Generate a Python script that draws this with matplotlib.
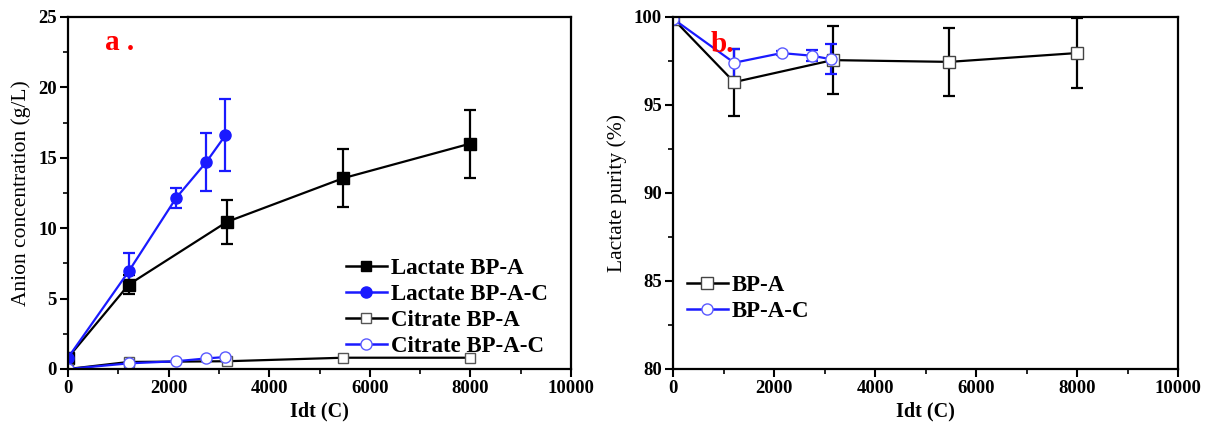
import matplotlib
matplotlib.use("Agg")
import matplotlib.pyplot as plt
from matplotlib.ticker import MultipleLocator
from matplotlib.lines import Line2D

plt.rcParams['font.family'] = ['Liberation Serif', 'DejaVu Serif']
plt.rcParams['font.weight'] = 'bold'

# Panel a data
x_bpa = [0, 1210, 3160, 5470, 7990]
x_bpac = [0, 1210, 2150, 2750, 3130]
lact_bpa = [0.8, 6.0, 10.45, 13.55, 16.0]
lact_bpa_err = [0.2, 0.7, 1.55, 2.05, 2.4]
lact_bpac = [0.8, 6.95, 12.15, 14.7, 16.6]
lact_bpac_err = [0.2, 1.3, 0.7, 2.05, 2.55]
cit_bpa = [0.0, 0.5, 0.55, 0.8, 0.8]
cit_bpa_err = [0.05, 0.2, 0.2, 0.2, 0.2]
cit_bpac = [0.0, 0.4, 0.55, 0.75, 0.85]
cit_bpac_err = [0.05, 0.2, 0.25, 0.2, 0.25]

# Panel b data
pur_bpa = [99.9, 96.3, 97.55, 97.45, 97.95]
pur_bpa_err = [0.05, 1.9, 1.95, 1.95, 2.0]
pur_bpac = [99.9, 97.4, 97.95, 97.8, 97.6]
pur_bpac_err = [0.05, 0.8, 0.12, 0.3, 0.85]

blue = '#1a1aff'
lblue = '#5a5aff'

fig = plt.figure(figsize=(12.1, 4.25), dpi=100)
ax1 = fig.add_axes([0.0562, 0.1318, 0.4157, 0.8282])
ax2 = fig.add_axes([0.5562, 0.1318, 0.4174, 0.8282])

ekw = dict(capsize=4, elinewidth=1.6, capthick=1.6, lw=1.6, ms=8)
ax1.errorbar(x_bpa, lact_bpa, yerr=lact_bpa_err, color='black', marker='s', **ekw)
ax1.errorbar(x_bpac, lact_bpac, yerr=lact_bpac_err, color=blue, marker='o', **ekw)
ax1.errorbar(x_bpa, cit_bpa, yerr=cit_bpa_err, color='black', marker='s',
             mfc='white', mec='#555555',
             capsize=3, elinewidth=1.0, capthick=1.0, lw=1.6, ms=7)
ax1.errorbar(x_bpac, cit_bpac, yerr=cit_bpac_err, color=blue, marker='o',
             mfc='white', mec=lblue, ecolor=lblue,
             capsize=3, elinewidth=1.0, capthick=1.0, lw=1.6, ms=8)

h1 = [Line2D([], [], color='black', marker='s', lw=1.8, ms=7),
      Line2D([], [], color=blue, marker='o', lw=1.8, ms=8),
      Line2D([], [], color='black', marker='s', mfc='white', mec='#555555', lw=1.8, ms=7),
      Line2D([], [], color=blue, marker='o', mfc='white', mec=lblue, lw=1.8, ms=8)]
l1 = ['Lactate BP-A', 'Lactate BP-A-C', 'Citrate BP-A', 'Citrate BP-A-C']

ax1.set_xlim(0, 10000)
ax1.set_ylim(0, 25)
ax1.xaxis.set_major_locator(MultipleLocator(2000))
ax1.xaxis.set_minor_locator(MultipleLocator(1000))
ax1.yaxis.set_major_locator(MultipleLocator(5))
ax1.yaxis.set_minor_locator(MultipleLocator(2.5))
ax1.set_xlabel('Idt (C)', fontsize=14.5, fontweight='bold', labelpad=3)
ax1.set_ylabel('Anion concentration (g/L)', fontsize=15.5, fontweight='normal', labelpad=5)
ax1.text(0.073, 0.965, 'a .', transform=ax1.transAxes, color='red',
         fontsize=21, fontweight='bold', va='top')
ax1.legend(h1, l1, loc='lower right', bbox_to_anchor=(0.985, -0.012), frameon=False,
           fontsize=16.5, numpoints=1, handlelength=1.8, handletextpad=0.15,
           labelspacing=0.22, borderaxespad=0.3)

ax2.errorbar(x_bpa, pur_bpa, yerr=pur_bpa_err, color='black', marker='s',
             mfc='white', mec='#444444', **ekw)
ax2.errorbar(x_bpac, pur_bpac, yerr=pur_bpac_err, color=blue, marker='o',
             mfc='white', mec=lblue, **ekw)
h2 = [Line2D([], [], color='black', marker='s', mfc='white', mec='#444444', lw=1.8, ms=8),
      Line2D([], [], color=blue, marker='o', mfc='white', mec=lblue, lw=1.8, ms=8)]
l2 = ['BP-A', 'BP-A-C']
ax2.set_xlim(0, 10000)
ax2.set_ylim(80, 100)
ax2.xaxis.set_major_locator(MultipleLocator(2000))
ax2.xaxis.set_minor_locator(MultipleLocator(1000))
ax2.yaxis.set_major_locator(MultipleLocator(5))
ax2.yaxis.set_minor_locator(MultipleLocator(2.5))
ax2.set_xlabel('Idt (C)', fontsize=14.5, fontweight='bold', labelpad=3)
ax2.set_ylabel('Lactate purity (%)', fontsize=15.5, fontweight='normal', labelpad=5)
ax2.text(0.075, 0.96, 'b.', transform=ax2.transAxes, color='red',
         fontsize=21, fontweight='bold', va='top')
ax2.legend(h2, l2, loc='lower left', bbox_to_anchor=(-0.005, 0.088), frameon=False,
           fontsize=16.5, numpoints=1, handlelength=1.8, handletextpad=0.15,
           labelspacing=0.22, borderaxespad=0.3)

for ax in (ax1, ax2):
    for s in ax.spines.values():
        s.set_linewidth(1.6)
    ax.tick_params(which='both', direction='out', top=False, right=False)
    ax.tick_params(which='major', length=6, width=1.5, labelsize=13.5, pad=2)
    ax.tick_params(which='minor', length=3.5, width=1.2)
    for lab in ax.get_xticklabels() + ax.get_yticklabels():
        lab.set_fontweight('bold')

fig.savefig('out.png', dpi=100)
